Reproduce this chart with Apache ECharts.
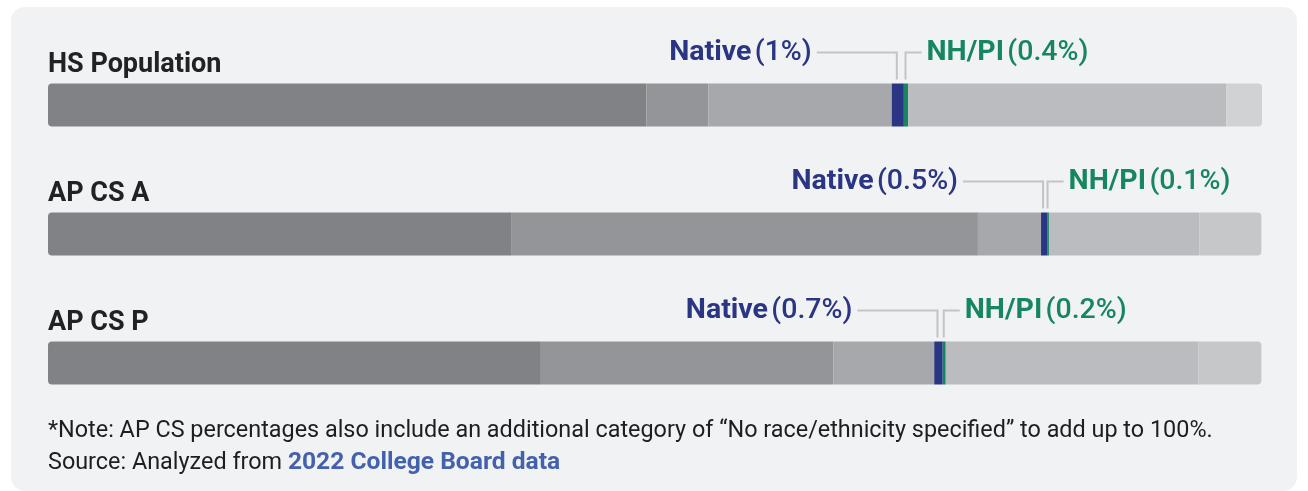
<!DOCTYPE html>
<html>
<head>
<meta charset="utf-8">
<script src="https://cdn.jsdelivr.net/npm/echarts@6/dist/echarts.min.js"></script>
<style>
  html, body { margin: 0; padding: 0; background: #fff; }
  #chart { width: 1308px; height: 491px; }
</style>
</head>
<body>
<div id="chart"></div>
<script>
// rows, top to bottom
const categories = ['HS Population', 'AP CS A', 'AP CS P'];
// shares in percent
const white    = [49.3, 38.2, 40.6];
const asian    = [5.1, 38.4, 24.1];
const black    = [15.1, 5.2, 8.3];
const native   = [1.0, 0.5, 0.7];
const nhpi     = [0.35, 0.15, 0.25];
const hispanic = [26.2, 12.4, 20.8];
const twoPlus  = [3.0, 0, 0];
const otherAP  = [0, 5.1, 5.2];   // two or more + no race specified
// callout texts
const nativeLabels = ['1%', '0.5%', '0.7%'];
const nhpiLabels   = ['0.4%', '0.1%', '0.2%'];

const BAR_H = 43;
const FONT = 'Roboto, "Noto Sans", sans-serif';
const LINE = '#c3c4c6';
const NOTE_SIZE = 23.4;
const CALLOUT_SIZE = 28.5;

const chart = echarts.init(document.getElementById('chart'));

function seg(name, data, color, radius, extra) {
    return Object.assign({
        name: name,
        type: 'bar',
        stack: 'total',
        data: data,
        barWidth: BAR_H,
        silent: true,
        itemStyle: { color: color, borderRadius: radius || 0 }
    }, extra || {});
}

function callout(word, pct, color) {
    return {
        text: '{b|' + word + '} {m|(' + pct + ')}',
        rich: {
            b: { fontFamily: FONT, fontWeight: 'bold', fontSize: CALLOUT_SIZE, fill: color },
            m: { fontFamily: FONT, fontWeight: 500, fontSize: CALLOUT_SIZE, fill: color }
        }
    };
}

const nativeStart = categories.map((c, i) => white[i] + asian[i] + black[i]);

chart.setOption({
    animation: false,
    graphic: [
        {
            type: 'rect', z: -10,
            shape: { x: 11, y: 7, width: 1286, height: 484, r: 14 },
            style: { fill: '#f1f2f4' }
        },
        {
            type: 'text', x: 48, y: 431,
            style: {
                text: '*Note: AP CS percentages also include an additional category of \u201cNo race/ethnicity specified\u201d to add up to 100%.',
                font: NOTE_SIZE + 'px ' + FONT, fill: '#1e1e1e', verticalAlign: 'middle'
            }
        },
        {
            type: 'text', x: 48, y: 463,
            style: {
                text: '{n|Source: Analyzed from }{l|2022 College Board data}',
                verticalAlign: 'middle',
                rich: {
                    n: { fontFamily: FONT, fontSize: NOTE_SIZE, fill: '#1e1e1e' },
                    l: { fontFamily: FONT, fontSize: 24.6, fontWeight: 'bold', fill: '#4461ad' }
                }
            }
        }
    ],
    grid: { left: 48, right: 46, top: 40.5, height: 387 },
    xAxis: { type: 'value', min: 0, max: 100, show: false },
    yAxis: { type: 'category', data: categories, inverse: true, show: false },
    series: [
        seg('White', white, '#818285', [4, 0, 0, 4], {
            label: {
                show: true,
                formatter: '{b}',
                position: [0, -18],
                align: 'left',
                verticalAlign: 'middle',
                fontFamily: FONT,
                fontWeight: 'bold',
                fontSize: 27,
                color: '#222222'
            }
        }),
        seg('Asian', asian, '#949598'),
        seg('Black', black, '#a7a8ab'),
        seg('Native', native, '#2a3583'),
        seg('NH/PI', nhpi, '#178660'),
        seg('Hispanic', hispanic, '#bbbcbf'),
        seg('Two or more', twoPlus, '#d1d2d4', [0, 4, 4, 0]),
        seg('Two or more / not specified', otherAP, '#c6c7c9', [0, 4, 4, 0]),
        {
            type: 'custom',
            silent: true,
            data: categories.map((c, i) => [nativeStart[i], native[i], nhpi[i], i]),
            encode: { x: 0, y: 3 },
            renderItem: function (params, api) {
                const i = api.value(3);
                const s = api.value(0), n = api.value(1), p = api.value(2);
                const a = api.coord([s, i]);
                const b = api.coord([s + n, i]);
                const c = api.coord([s + n + p, i]);
                const top = a[1] - BAR_H / 2;
                const ly = top - 31;
                const xn = (a[0] + b[0]) / 2 - 1;
                const xp = (b[0] + c[0]) / 2 - 0.5;
                const lineStyle = { stroke: LINE, lineWidth: 2, fill: null };
                return {
                    type: 'group',
                    children: [
                        { type: 'polyline', shape: { points: [[xn, top - 4], [xn, ly], [xn - 80, ly]] }, style: lineStyle },
                        { type: 'polyline', shape: { points: [[xp, top - 4], [xp, ly], [xp + 16, ly]] }, style: lineStyle },
                        {
                            type: 'text', x: xn - 85, y: ly,
                            style: Object.assign({ align: 'right', verticalAlign: 'middle' },
                                callout('Native', nativeLabels[i], '#2a3583'))
                        },
                        {
                            type: 'text', x: xp + 21, y: ly,
                            style: Object.assign({ align: 'left', verticalAlign: 'middle' },
                                callout('NH/PI', nhpiLabels[i], '#178660'))
                        }
                    ]
                };
            }
        }
    ]
});
</script>
</body>
</html>
